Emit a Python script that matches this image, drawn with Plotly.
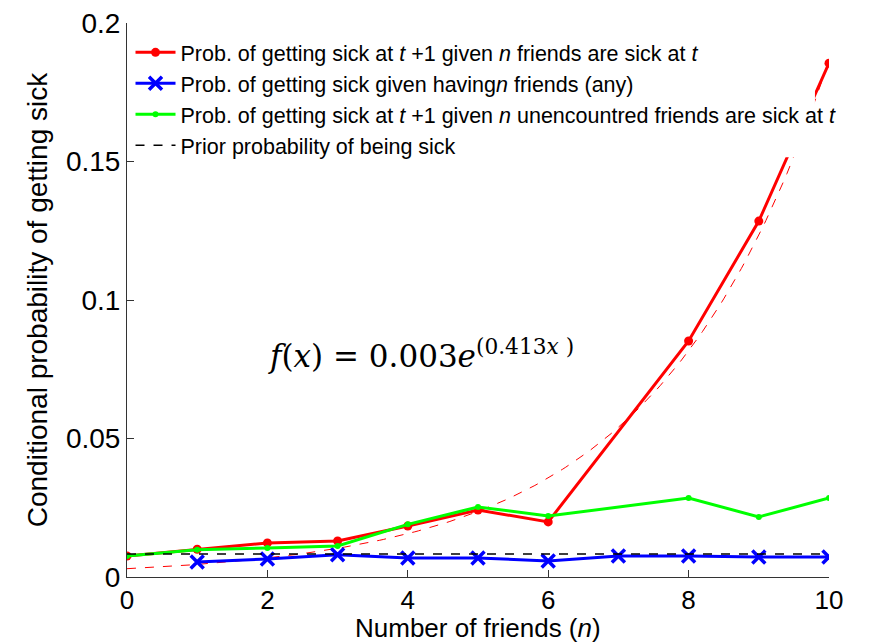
import numpy as np
import plotly.graph_objects as go

# Data
red_x = [0, 1, 2, 3, 4, 5, 6, 8, 9, 10]
red_y = [0.0076, 0.0100, 0.0123, 0.0130, 0.0184, 0.0242, 0.0199, 0.0852, 0.1285, 0.1855]

blue_x = [1, 2, 3, 4, 5, 6, 7, 8, 9, 10]
blue_y = [0.0054, 0.0065, 0.0080, 0.0069, 0.0069, 0.0058, 0.0076, 0.0076, 0.0072, 0.0072]

green_x = [0, 1, 2, 3, 4, 5, 6, 8, 9, 10]
green_y = [0.0076, 0.0098, 0.0105, 0.0112, 0.0190, 0.0253, 0.0220, 0.0285, 0.0217, 0.0285]

prior_x = [0, 10]
prior_y = [0.0083, 0.0083]

# Fit parameters shown on the chart
fit_a = 0.003
fit_b = 0.413
fit_x = np.linspace(0, 10, 201)
fit_y = fit_a * np.exp(fit_b * fit_x)

x_title = "Number of friends (<i>n</i>)"
y_title = "Conditional probability of getting sick"

font_main = "Liberation Sans, Arial, Helvetica, sans-serif"

fig = go.Figure()

fig.add_trace(go.Scatter(
    x=fit_x, y=fit_y, mode="lines",
    line=dict(color="red", width=1, dash="dash"),
    showlegend=False, hoverinfo="skip"))

fig.add_trace(go.Scatter(
    x=red_x, y=red_y, mode="lines+markers",
    line=dict(color="#ff0000", width=3),
    marker=dict(symbol="circle", size=9, color="#ff0000"),
    name="Prob. of getting sick at <i>t</i> +1 given <i>n</i> friends are sick at <i>t</i>"))

fig.add_trace(go.Scatter(
    x=blue_x, y=blue_y, mode="lines+markers",
    line=dict(color="#0000ff", width=3),
    marker=dict(symbol="x-thin", size=13, color="#0000ff",
                line=dict(color="#0000ff", width=3.5)),
    name="Prob. of getting sick given having<i>n</i> friends (any)"))

fig.add_trace(go.Scatter(
    x=green_x, y=green_y, mode="lines+markers",
    line=dict(color="#00ff00", width=3),
    marker=dict(symbol="circle", size=6, color="#00ff00"),
    name="Prob. of getting sick at <i>t</i> +1 given <i>n</i> unencountred friends are sick at <i>t</i>"))

fig.add_trace(go.Scatter(
    x=prior_x, y=prior_y, mode="lines",
    line=dict(color="black", width=1.5, dash="dash"),
    name="Prior probability of being sick"))

# opaque legend box (covers curves as in the original)
fig.add_shape(type="rect", xref="x", yref="y",
              x0=0.03, x1=9.8, y0=0.1515, y1=0.2,
              fillcolor="white", line=dict(width=0), layer="above")

fig.add_annotation(
    x=4.19, y=0.0805, xref="x", yref="y", showarrow=False,
    text="<i>f</i>(<i>x</i>) = 0.003<i>e</i><sup>(0.413<i>x</i> )</sup>",
    font=dict(family="DejaVu Serif, Liberation Serif, serif", size=31, color="black"))

# x-axis title placed as an annotation so it stays inside the window
fig.add_annotation(
    x=0.5, y=0, xref="paper", yref="paper", showarrow=False,
    yanchor="middle", yshift=-51, text=x_title,
    font=dict(family=font_main, size=26, color="black"))

fig.update_layout(
    width=873, height=642, autosize=False,
    margin=dict(l=119, r=52, t=15, b=73),
    plot_bgcolor="white", paper_bgcolor="white",
    font=dict(family=font_main, size=28, color="black"),
    legend=dict(x=0.005, y=0.984, xanchor="left", yanchor="top",
                bgcolor="rgba(0,0,0,0)", borderwidth=0,
                font=dict(family=font_main, size=21.5, color="black"),
                tracegroupgap=0, itemwidth=40),
    xaxis=dict(range=[0, 10], tickvals=[0, 2, 4, 6, 8, 10],
               showgrid=False, zeroline=False, showline=True,
               linecolor="#333", linewidth=1, ticks="inside",
               ticklen=7, tickcolor="#333", automargin=False,
               ticklabeloverflow="allow",
               tickfont=dict(size=26)),
    yaxis=dict(range=[0, 0.2], tickvals=[0, 0.05, 0.1, 0.15, 0.2],
               ticktext=["0", "0.05", "0.1", "0.15", "0.2"],
               showgrid=False, zeroline=False, showline=True,
               linecolor="#333", linewidth=1, ticks="inside",
               ticklen=7, tickcolor="#333", automargin=False,
               ticklabeloverflow="allow",
               tickfont=dict(size=28),
               title=dict(text=y_title, standoff=10, font=dict(size=28))),
)

fig.write_html("out.html")
